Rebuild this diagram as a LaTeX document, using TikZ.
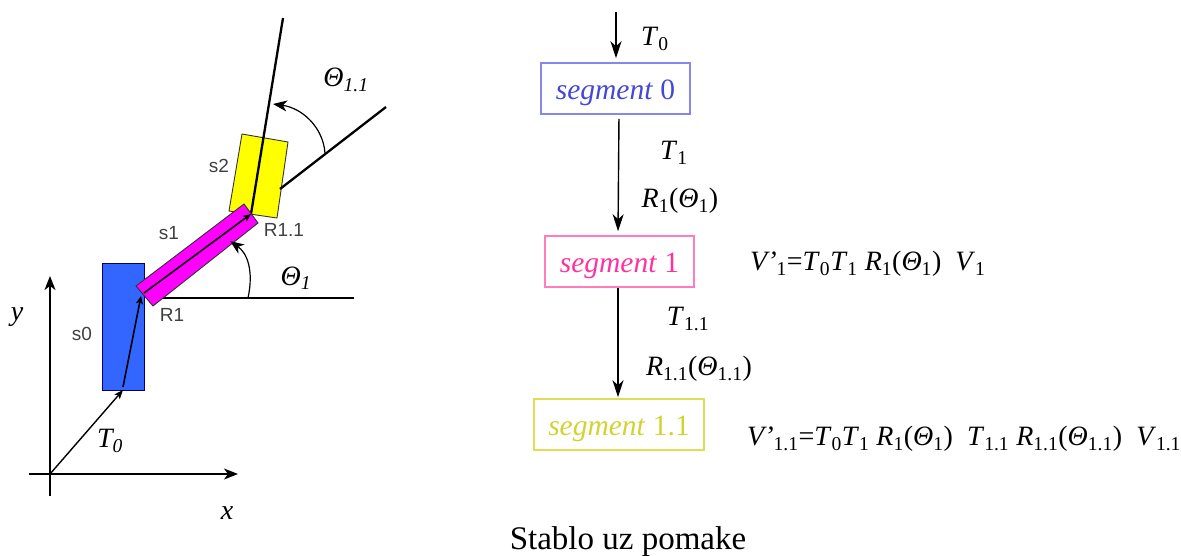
\documentclass[tikz,border=0pt]{standalone}
\usepackage{fontspec}
\setmainfont{Liberation Serif}
\setsansfont{Liberation Sans}
\usetikzlibrary{arrows.meta,positioning,calc}
\definecolor{BlueFill}{RGB}{51,102,255}
\definecolor{MagFill}{RGB}{255,0,255}
\definecolor{YelFill}{RGB}{255,255,0}
\definecolor{SegBlue}{RGB}{70,70,215}
\definecolor{SegBlueB}{RGB}{135,135,235}
\definecolor{SegPink}{RGB}{255,50,160}
\definecolor{SegPinkB}{RGB}{255,125,190}
\definecolor{SegYel}{RGB}{210,210,50}
\definecolor{SegYelB}{RGB}{222,222,85}
\newcommand{\sbs}[1]{\textsubscript{#1}}
\newcommand{\thet}{\textit{Θ}}
\newcommand{\segtxt}[1]{\raisebox{-11pt}[0pt][0pt]{#1}}
\tikzset{
  lbl/.style={inner sep=0pt,font=\fontsize{28}{30}\selectfont},
  partlbl/.style={inner sep=0pt,text=black!75,font=\sffamily\fontsize{19}{22}\selectfont},
  axis/.style={line width=1.4pt,-{Stealth[length=14pt,width=11pt,inset=4pt]}},
  link/.style={line width=1.4pt,-{Stealth[length=9pt,width=7pt,inset=2pt]}},
  beam/.style={line width=2.3pt},
  partbox/.style={draw=black!80,line width=0.9pt},
  segbox/.style={draw,line width=1.5pt,minimum width=149pt,minimum height=51pt,inner sep=0pt,
    font=\fontsize{29.5}{32}\selectfont},
  treearr/.style={line width=1.4pt,-{Stealth[length=17pt,width=11pt,inset=5pt]},shorten >=4pt}
}
\begin{document}
\begin{tikzpicture}[x=1pt,y=-1pt]
  \useasboundingbox (0,0) rectangle (1181,555);
  % axes
  \coordinate (origin) at (50,474);
  \draw[axis] (50,496) -- (50,276);
  \draw[axis] (29,474) -- (238,474);
  \node[lbl] (ylab) at (17,317) {\textit{y}};
  \node[lbl] (xlab) at (227,513) {\textit{x}};
  % arm
  \fill[BlueFill] (102,263) rectangle (144,390);
  \draw[partbox,draw=black!60!blue] (102,263) rectangle (144,390);
  \coordinate (base) at (123,390);
  \coordinate (joint1) at (141,296);
  \coordinate (joint2) at (251,214);
  \draw[link] (origin) -- (base);
  \draw[beam] (160,298) -- (354,298);
  \draw[partbox,fill=YelFill] (242,134) -- (288,142) -- (277,218) -- (229,211) -- cycle;
  \draw[beam] (joint2) -- (283,18);
  \draw[beam] (280,189) -- (386,107);
  \draw[partbox,fill=MagFill] (244,204) -- (258,223) -- (153,306) -- (136,286) -- cycle;
  \draw[line width=1.6pt,-{Stealth[length=8pt,width=7pt,inset=2pt]}] (144,293) -- (joint2);
  \draw[line width=1.6pt,-{Stealth[length=8pt,width=7pt,inset=2pt]}] (base) ++(0,-3) -- (joint1);
  % angles
  \draw[axis,line width=1.2pt] (248,298) .. controls (254,270) and (247,253) .. (230,241);
  \draw[axis,line width=1.2pt] (325,153) .. controls (323,127) and (302,108) .. (273,104);
  \node[lbl] (t0lab) at (110,441) {\textit{T\sbs{0}}};
  \node[lbl] (th1lab) at (296,278) {\textit{Θ\sbs{1}}};
  \node[lbl] (th11lab) at (346,80) {\textit{Θ\sbs{1.1}}};
  \node[partlbl] (s0lab) at (82,334) {s0};
  \node[partlbl] (s1lab) at (169,233) {s1};
  \node[partlbl] (s2lab) at (219,166) {s2};
  \node[partlbl] (r1lab) at (172,315) {R1};
  \node[partlbl] (r11lab) at (284,230) {R1.1};
  % tree
  \node[segbox,draw=SegBlueB,text=SegBlue] (seg0) at (615.5,88.5) {\segtxt{\textit{segment} 0}};
  \node[segbox,draw=SegPinkB,text=SegPink] (seg1) at (619.5,261.5) {\segtxt{\textit{segment} 1}};
  \node[segbox,draw=SegYelB,text=SegYel,minimum width=170pt] (seg11) at (619,424.5) {\segtxt{\textit{segment} 1.1}};
  \coordinate (entry) at (616,12);
  \draw[treearr] (entry) -- (seg0.north -| entry);
  \draw[treearr,shorten <=4pt] ([xshift=3.5pt]seg0.south) -- (seg1.north -| 618,0);
  \draw[treearr,shorten >=1pt] (seg1.south -| 618,0) -- (seg11.north -| 618,0);
  \node[lbl] (l0) at (655,39) {\textit{T}\sbs{0}};
  \node[lbl] (l1) at (674,153) {\textit{T}\sbs{1}};
  \node[lbl] (l2) at (680,201) {\textit{R}\sbs{1}(\thet\sbs{1})};
  \node[lbl] (l3) at (688,319) {\textit{T}\sbs{1.1}};
  \node[lbl] (l4) at (699,369) {\textit{R}\sbs{1.1}(\thet\sbs{1.1})};
  \node[lbl,anchor=west] (v1) at (750,264) {\textit{V’}\sbs{1}=\textit{T}\sbs{0}\textit{T}\sbs{1} \textit{R}\sbs{1}(\thet\sbs{1})\ \ \textit{V}\sbs{1}};
  \node[lbl,anchor=west] (v11) at (747,439) {\textit{V’}\sbs{1.1}=\textit{T}\sbs{0}\textit{T}\sbs{1} \textit{R}\sbs{1}(\thet\sbs{1})\ \ \textit{T}\sbs{1.1} \textit{R}\sbs{1.1}(\thet\sbs{1.1})\ \ \textit{V}\sbs{1.1}};
  \node[inner sep=0pt,font=\fontsize{33}{36}\selectfont] (title) at (628,541.5) {Stablo uz pomake};
\end{tikzpicture}
\end{document}
